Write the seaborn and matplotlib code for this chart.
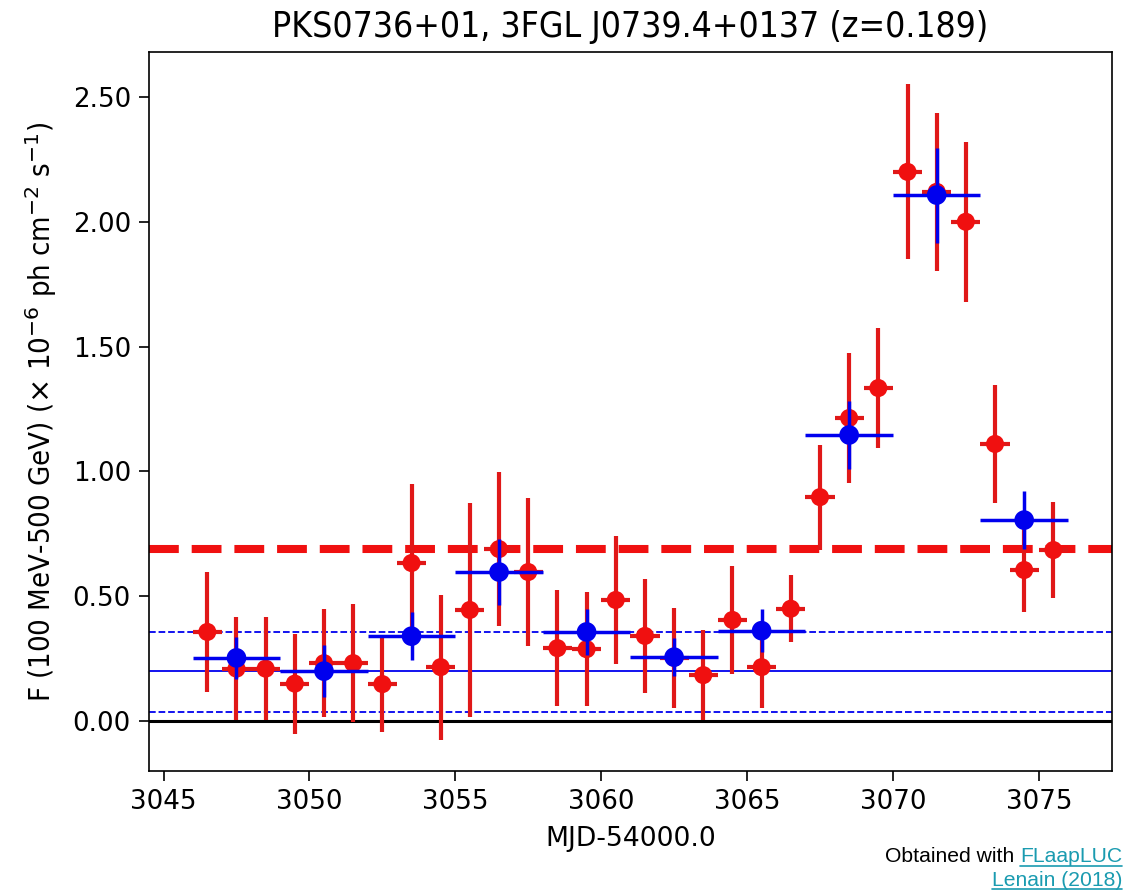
import matplotlib
matplotlib.use("Agg")
import matplotlib.pyplot as plt
from matplotlib.lines import Line2D
import seaborn as sns
import pandas as pd

# ---------------- data ----------------
title = "PKS0736+01, 3FGL J0739.4+0137 (z=0.189)"
xlabel = "MJD-54000.0"
ylabel = r"F (100 MeV-500 GeV) ($\times$ 10$^{-6}$ ph cm$^{-2}$ s$^{-1}$)"

# daily bins (red)
day_x = [3046.5, 3047.5, 3048.5, 3049.5, 3050.5, 3051.5, 3052.5, 3053.5, 3054.5, 3055.5,
         3056.5, 3057.5, 3058.5, 3059.5, 3060.5, 3061.5, 3062.5, 3063.5, 3064.5, 3065.5,
         3066.5, 3067.5, 3068.5, 3069.5, 3070.5, 3071.5, 3072.5, 3073.5, 3074.5, 3075.5]
day_f = [0.357, 0.21, 0.21, 0.15, 0.232, 0.232, 0.148, 0.633, 0.216, 0.445,
         0.689, 0.597, 0.292, 0.288, 0.485, 0.341, 0.254, 0.184, 0.405, 0.216,
         0.45, 0.897, 1.214, 1.334, 2.20, 2.12, 2.00, 1.11, 0.605, 0.685]
day_ferr = [0.24, 0.205, 0.205, 0.20, 0.215, 0.235, 0.19, 0.317, 0.29, 0.43,
            0.31, 0.295, 0.232, 0.227, 0.256, 0.228, 0.20, 0.18, 0.217, 0.165,
            0.135, 0.21, 0.26, 0.24, 0.35, 0.317, 0.32, 0.235, 0.17, 0.192]
day_xerr = 0.5

# 3-day bins (blue)
bin_x = [3047.5, 3050.5, 3053.5, 3056.5, 3059.5, 3062.5, 3065.5, 3068.5, 3071.5, 3074.5]
bin_f = [0.253, 0.20, 0.34, 0.597, 0.357, 0.256, 0.362, 1.146, 2.107, 0.805]
bin_ferr = [0.085, 0.105, 0.097, 0.132, 0.092, 0.075, 0.085, 0.135, 0.19, 0.115]
bin_xerr = 1.5

# reference levels
alert_level = 0.689      # red dashed
mean_flux = 0.20         # blue solid
mean_band = [0.036, 0.357]  # blue dashed

xlim = (3044.5, 3077.5)
ylim = (-0.20, 2.68)
xticks = [3045, 3050, 3055, 3060, 3065, 3070, 3075]
yticks = [0.0, 0.5, 1.0, 1.5, 2.0, 2.5]

credit_plain = "Obtained with "
credit_link1 = "FLaapLUC"
credit_link2 = "Lenain (2018)"

# ---------------- style ----------------
sns.set_theme(style="ticks")
plt.rcParams["font.family"] = ["DejaVu Sans"]
plt.rcParams["axes.linewidth"] = 1.2
plt.rcParams["text.color"] = "black"
plt.rcParams["axes.labelcolor"] = "black"
plt.rcParams["xtick.color"] = "black"
plt.rcParams["ytick.color"] = "black"

fig = plt.figure(figsize=(11.25, 8.91), dpi=100)
ax = fig.add_axes([0.1324, 0.1347, 0.8558, 0.8069])

RED = "#f01010"
RED_BAR = "#e01818"
BLUE = "#0000ee"

# horizontal reference lines
ax.axhline(0.0, color="black", lw=2.2, zorder=1)
ax.axhline(mean_flux, color=BLUE, lw=1.3, zorder=1)
for v in mean_band:
    ax.axhline(v, color=BLUE, lw=1.3, ls="--", zorder=1)
ax.axhline(alert_level, color=RED, lw=5.8, ls="--", zorder=1)

day_df = pd.DataFrame({"x": day_x, "f": day_f, "ferr": day_ferr})
bin_df = pd.DataFrame({"x": bin_x, "f": bin_f, "ferr": bin_ferr})

# red daily points
ax.errorbar(day_df["x"], day_df["f"], yerr=day_df["ferr"], xerr=day_xerr,
            fmt="none", ecolor=RED_BAR, elinewidth=3.0, capsize=0, zorder=2)
sns.scatterplot(data=day_df, x="x", y="f", ax=ax, color=RED, s=170,
                edgecolor="none", linewidth=0, zorder=3, legend=False)

# blue 3-day points
ax.errorbar(bin_df["x"], bin_df["f"], yerr=bin_df["ferr"], xerr=bin_xerr,
            fmt="none", ecolor=BLUE, elinewidth=2.5, capsize=0, zorder=4)
sns.scatterplot(data=bin_df, x="x", y="f", ax=ax, color=BLUE, s=200,
                edgecolor="none", linewidth=0, zorder=5, legend=False)

ax.set_xlim(*xlim)
ax.set_ylim(*ylim)
ax.set_xticks(xticks)
ax.set_yticks(yticks)
ax.set_yticklabels([f"{v:.2f}" for v in yticks])
ax.tick_params(axis="both", labelsize=18.8, length=7, width=1.2, direction="out",
               colors="black", pad=6)
for s in ax.spines.values():
    s.set_visible(True)
    s.set_color("black")

ax.set_xlabel(xlabel, fontsize=19.2, labelpad=8)
ax.set_ylabel(ylabel, fontsize=21, fontstretch="condensed", labelpad=10)
ax.set_title(title, fontsize=25.5, fontstretch="condensed", pad=11)

# credit text, bottom right
LINK = "#1a9bb0"
cfont = dict(family=["Liberation Sans", "DejaVu Sans"], fontsize=15.2)
t1 = fig.text(1122 / 1125, 1 - 857 / 891, credit_link1, ha="right", va="center",
              color=LINK, **cfont)
t3 = fig.text(1122 / 1125, 1 - 880 / 891, credit_link2, ha="right", va="center",
              color=LINK, **cfont)
fig.canvas.draw()
r = fig.canvas.get_renderer()
bb1 = t1.get_window_extent(r)
t2 = fig.text(bb1.x0 / fig.bbox.width, 1 - 857 / 891, credit_plain, ha="right",
              va="center", color="black", **cfont)
for t in (t1, t3):
    bb = t.get_window_extent(r)
    y = (bb.y0 + 1.0) / fig.bbox.height
    fig.add_artist(Line2D([bb.x0 / fig.bbox.width, bb.x1 / fig.bbox.width], [y, y],
                          color=LINK, lw=1.2, transform=fig.transFigure))

fig.savefig("out.png", dpi=100, facecolor="white")
